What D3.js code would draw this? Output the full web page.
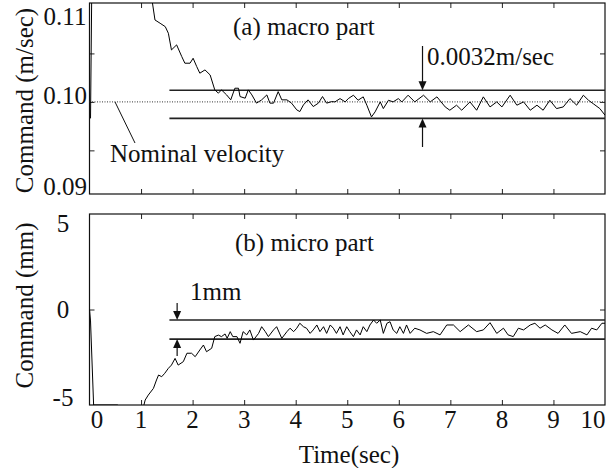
<!DOCTYPE html>
<html>
<head>
<meta charset="utf-8">
<script src="https://cdn.jsdelivr.net/npm/d3@7"></script>
<style>
body { margin: 0; background: #fff; }
svg text { font-family: "Liberation Serif", "Times New Roman", serif; font-size: 25px; fill: #111; }
</style>
</head>
<body>
<svg width="612" height="468"></svg>
<script>
'use strict'

// time axis (sec)
const timeTicks = [0, 1, 2, 3, 4, 5, 6, 7, 8, 9, 10]

// (a) macro part: [time, command m/sec]
const macroCmd = [
    [0.02, 0.0983], [0.05, 0.1150], [0.6, 0.1150], [1.21, 0.1106], [1.27, 0.10845],
    [1.37, 0.10811], [1.47, 0.10776], [1.53, 0.10708], [1.59, 0.10536], [1.69, 0.10588],
    [1.79, 0.10467], [1.85, 0.10399], [1.95, 0.10399], [2.01, 0.1045], [2.08, 0.10364],
    [2.14, 0.10296], [2.24, 0.1033], [2.34, 0.10278], [2.43, 0.10124], [2.50, 0.1009],
    [2.56, 0.10124], [2.66, 0.10072], [2.74, 0.10021], [2.82, 0.10141], [2.89, 0.10141],
    [2.92, 0.10055], [3.02, 0.10038], [3.08, 0.10124], [3.15, 0.10072], [3.24, 0.09987],
    [3.34, 0.10021], [3.44, 0.10072], [3.50, 0.09987], [3.57, 0.09987], [3.66, 0.10106],
    [3.73, 0.10021], [3.83, 0.10021], [3.92, 0.09987], [4.02, 0.09918], [4.08, 0.0990],
    [4.15, 0.09969], [4.24, 0.10021], [4.34, 0.09952], [4.44, 0.09987], [4.52, 0.10055],
    [4.60, 0.09987], [4.70, 0.10003], [4.76, 0.1000], [4.86, 0.10034], [4.96, 0.1000],
    [5.02, 0.10034], [5.12, 0.10069], [5.21, 0.10017], [5.31, 0.10052], [5.38, 0.09966],
    [5.47, 0.09845], [5.54, 0.09897], [5.64, 0.1000], [5.70, 0.09931], [5.80, 0.10017],
    [5.89, 0.1000], [5.99, 0.10034], [6.06, 0.1000], [6.18, 0.10069], [6.31, 0.1000],
    [6.48, 0.10069], [6.61, 0.1000], [6.74, 0.10052], [6.90, 0.09948], [6.99, 0.09914],
    [7.12, 0.09966], [7.22, 0.09914], [7.38, 0.1000], [7.51, 0.09914], [7.64, 0.10052],
    [7.77, 0.09948], [7.90, 0.1000], [8.00, 0.09948], [8.16, 0.10069], [8.29, 0.09966],
    [8.42, 0.1000], [8.55, 0.09914], [8.68, 0.09966], [8.80, 0.09914], [8.93, 0.10017],
    [9.06, 0.09931], [9.19, 0.09948], [9.32, 0.10034], [9.45, 0.09966], [9.58, 0.10069],
    [9.68, 0.10017], [9.77, 0.09982], [9.90, 0.09931], [10.0, 0.09863]
]
const macroTicks = [0.09, 0.10, 0.11]
const macroMinor = [0.095, 0.10, 0.105]
const nominalVel = 0.1
const macroBand = [0.0983, 0.1012]

// (b) micro part: [time, command mm]
const microCmd = [
    [0, 0], [0.02, -0.6], [0.08, -5.0], [0.55, -5.0], [0.6, -5.6], [1.0, -5.6],
    [1.08, -4.74], [1.14, -4.48], [1.24, -4.13], [1.30, -3.69], [1.34, -3.43], [1.40, -3.52],
    [1.46, -3.34], [1.53, -3.08], [1.59, -2.91], [1.66, -2.56], [1.72, -2.91], [1.82, -2.73],
    [1.89, -2.29], [1.98, -2.29], [2.05, -2.47], [2.14, -2.12], [2.21, -1.86], [2.27, -2.21],
    [2.37, -2.03], [2.43, -1.42], [2.50, -1.34], [2.56, -1.42], [2.63, -1.28], [2.67, -1.51],
    [2.73, -1.16], [2.78, -1.42], [2.86, -1.42], [2.92, -1.77], [2.98, -1.16], [3.05, -1.33],
    [3.11, -1.07], [3.18, -1.60], [3.28, -1.25], [3.34, -0.90], [3.41, -1.16], [3.47, -1.42],
    [3.57, -1.07], [3.63, -0.90], [3.73, -1.51], [3.83, -1.16], [3.89, -0.98], [3.96, -1.16],
    [4.02, -0.98], [4.08, -0.72], [4.15, -0.90], [4.21, -0.98], [4.28, -1.25], [4.34, -1.07],
    [4.41, -0.81], [4.47, -1.16], [4.54, -0.90], [4.60, -1.25], [4.67, -0.81], [4.73, -0.98],
    [4.79, -1.25], [4.86, -0.90], [4.92, -1.33], [4.99, -0.90], [5.05, -1.16], [5.12, -1.42],
    [5.18, -1.07], [5.25, -1.33], [5.31, -0.90], [5.38, -1.16], [5.44, -0.81], [5.51, -0.55],
    [5.57, -0.72], [5.64, -0.55], [5.70, -1.25], [5.77, -0.72], [5.83, -0.64], [5.89, -1.07],
    [5.96, -1.25], [6.02, -0.90], [6.09, -1.25], [6.15, -0.81], [6.22, -1.25], [6.31, -0.98],
    [6.41, -1.07], [6.54, -1.25], [6.67, -1.16], [6.80, -1.33], [6.93, -0.81], [7.06, -0.81],
    [7.19, -1.16], [7.35, -0.81], [7.51, -1.16], [7.64, -1.07], [7.77, -0.69], [7.90, -1.25],
    [8.03, -0.98], [8.12, -1.33], [8.22, -1.42], [8.32, -0.98], [8.42, -1.07], [8.55, -0.81],
    [8.64, -0.72], [8.74, -0.98], [8.84, -0.81], [8.97, -1.07], [9.09, -1.25], [9.22, -0.81],
    [9.35, -1.25], [9.52, -1.16], [9.65, -1.33], [9.74, -0.98], [9.84, -1.07], [9.94, -0.72],
    [10.0, -0.72]
]
const microTicks = [-5, 0, 5]
const microMinor = [0]
const microBand = [-1.55, -0.55]
const bandStart = 1.55

const svg = d3.select('svg')

const x = d3.scaleLinear().domain([0, 10]).range([89.5, 605])
const yA = d3.scaleLinear().domain([0.0905, 0.1102]).range([194, 3])
const yB = d3.scaleLinear().domain([-5, 5]).range([405, 214])

const clampV = (v, lo, hi) => Math.max(lo, Math.min(hi, v))

function frame(y, minor, id) {
    const [y0, y1] = y.range()
    const g = svg.append('g')

    g.append('clipPath').attr('id', id)
        .append('rect')
        .attr('x', x(0)).attr('y', y1)
        .attr('width', x(10) - x(0)).attr('height', y0 - y1)

    const inner = [1, 2, 3, 4, 5, 6, 7, 8, 9]
    g.append('g').attr('transform', `translate(0,${y1})`)
        .call(d3.axisBottom(x).tickValues(inner).tickSize(5).tickFormat(''))
    g.append('g').attr('transform', `translate(0,${y0})`)
        .call(d3.axisTop(x).tickValues(inner).tickSize(5).tickFormat(''))
    g.append('g').attr('transform', `translate(${x(0)},0)`)
        .call(d3.axisRight(y).tickValues(minor).tickSize(5).tickFormat(''))
    g.append('g').attr('transform', `translate(${x(10)},0)`)
        .call(d3.axisLeft(y).tickValues(minor).tickSize(5).tickFormat(''))
    g.selectAll('.domain').remove()
    g.selectAll('.tick line').attr('stroke', '#222')

    g.append('rect')
        .attr('x', x(0)).attr('y', y1)
        .attr('width', x(10) - x(0)).attr('height', y0 - y1)
        .attr('fill', 'none').attr('stroke', '#111').attr('stroke-width', 1.2)
    return g
}

function band(y, vals) {
    svg.append('g').selectAll('line').data(vals).join('line')
        .attr('x1', x(bandStart)).attr('x2', x(10))
        .attr('y1', d => y(d)).attr('y2', d => y(d))
        .attr('stroke', '#222').attr('stroke-width', 1.6)
}

function trace(y, data, id) {
    svg.append('path').datum(data)
        .attr('clip-path', `url(#${id})`)
        .attr('fill', 'none').attr('stroke', '#000').attr('stroke-width', 1)
        .attr('d', d3.line().x(d => x(d[0])).y(d => y(d[1])))
}

function arrow(xp, from, to) {
    const dir = to > from ? 1 : -1
    svg.append('line')
        .attr('x1', xp).attr('x2', xp).attr('y1', from).attr('y2', to - dir * 6)
        .attr('stroke', '#111').attr('stroke-width', 1.2)
    svg.append('path')
        .attr('d', `M${xp},${to} L${xp - 4},${to - dir * 9} L${xp + 4},${to - dir * 9} Z`)
        .attr('fill', '#111')
}

// ---- (a) macro part
frame(yA, macroMinor, 'clipA')
svg.append('line')
    .attr('x1', x(0)).attr('x2', x(10))
    .attr('y1', yA(nominalVel)).attr('y2', yA(nominalVel))
    .attr('stroke', '#333').attr('stroke-width', 1).attr('stroke-dasharray', '1,1.5')
band(yA, macroBand)
trace(yA, macroCmd, 'clipA')

svg.append('g').selectAll('text').data(macroTicks).join('text')
    .attr('x', 65).attr('y', d => clampV(yA(d) - 6, 17, 187) + 8)
    .attr('text-anchor', 'middle')
    .text(d => d.toFixed(2))

svg.append('text').attr('x', 233).attr('y', 35).text('(a) macro part')
svg.append('text').attr('x', 427).attr('y', 65).text('0.0032m/sec')
arrow(x(6.46), 46, yA(macroBand[1]))
arrow(x(6.46), 147, yA(macroBand[0]))

svg.append('line')
    .attr('x1', 115).attr('y1', yA(nominalVel)).attr('x2', 135).attr('y2', 143)
    .attr('stroke', '#111').attr('stroke-width', 1)
svg.append('text').attr('x', 110).attr('y', 162).text('Nominal velocity')

svg.append('text')
    .attr('transform', `translate(33,${(yA.range()[0] + yA.range()[1]) / 2 + 2}) rotate(-90)`)
    .attr('text-anchor', 'middle')
    .text('Command (m/sec)')

// ---- (b) micro part
frame(yB, microMinor, 'clipB')
band(yB, microBand)
trace(yB, microCmd, 'clipB')

svg.append('g').selectAll('text').data(microTicks).join('text')
    .attr('x', 63).attr('y', d => clampV(yB(d), 224, 398) + 8)
    .attr('text-anchor', 'middle')
    .text(d => d)

svg.append('text').attr('x', 235).attr('y', 251).text('(b) micro part')
svg.append('text').attr('x', 190).attr('y', 300).text('1mm')
arrow(x(1.70), 303, yB(microBand[1]))
arrow(x(1.70), 356, yB(microBand[0]))

svg.append('text')
    .attr('transform', `translate(33,${(yB.range()[0] + yB.range()[1]) / 2 - 4}) rotate(-90)`)
    .attr('text-anchor', 'middle')
    .text('Command (mm)')

// time labels
svg.append('g').selectAll('text').data(timeTicks).join('text')
    .attr('x', d => clampV(x(d), 97, 593)).attr('y', 428)
    .attr('text-anchor', 'middle')
    .text(d => d)

svg.append('text').attr('x', 349).attr('y', 463)
    .attr('text-anchor', 'middle')
    .text('Time(sec)')
</script>
</body>
</html>
